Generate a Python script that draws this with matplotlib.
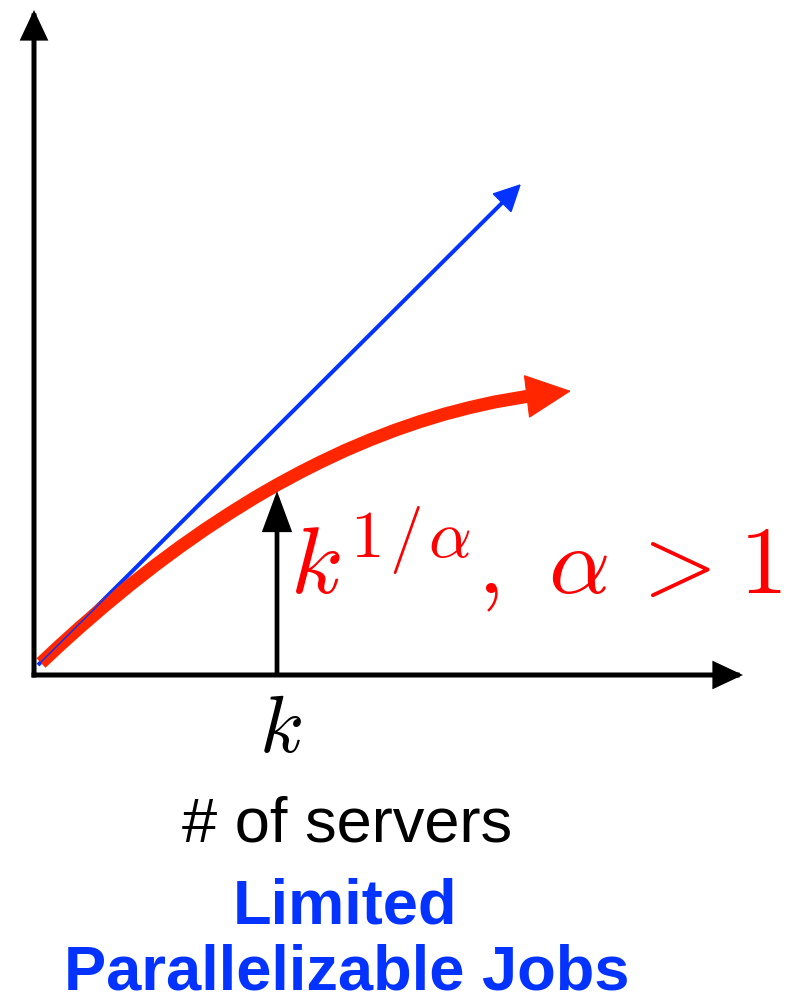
import matplotlib
matplotlib.use("Agg")
import matplotlib.pyplot as plt

plt.rcParams['mathtext.fontset'] = 'cm'

# ---- data (pixel-space coordinates, y grows downward) ----
origin_x, origin_y = 34, 675
yaxis_tip_y = 10
xaxis_tip_x = 743

blue_x = [38, 521]
blue_y = [665, 184]

red_x = [41, 60, 80, 105, 130, 155, 180, 205, 230, 255, 277,
         300, 320, 345, 370, 395, 420, 445, 470, 495, 527]
red_y = [663, 645.2, 627.2, 605.6, 585.0, 565.4, 546.9, 529.4, 513.0, 497.5, 484.8,
         472.4, 462.3, 450.5, 439.9, 430.2, 421.6, 414.0, 407.5, 401.9, 396.4]
red_tip = (571, 391)

k_x = 277
k_tip_y = 491

curve_label = (r'$k^{1\hspace{0.09}/\hspace{0.09}\alpha},\ '
               r'\alpha\hspace{0.18}>\hspace{0.07}1$')
k_label = r'$k$'
xlabel = '# of servers'
title_lines = ['Limited', 'Parallelizable Jobs']

BLUE = '#0433ff'
RED = '#ff2600'
TEXT_RED = '#ff0000'

fig = plt.figure(figsize=(8.07, 10.02), dpi=100)
ax = fig.add_axes([0, 0, 1, 1])
ax.set_xlim(0, 807)
ax.set_ylim(1002, 0)
ax.axis('off')


def arrow(xy, xytext, color, lw, hl, hw, cap='butt'):
    ax.annotate('', xy=xy, xytext=xytext,
                arrowprops=dict(arrowstyle=f'-|>,head_length={hl},head_width={hw}',
                                color=color, lw=lw, shrinkA=0, shrinkB=0,
                                mutation_scale=1, joinstyle='miter', capstyle=cap))


# axes
arrow((origin_x, yaxis_tip_y), (origin_x, origin_y), 'black', 3.6, 16, 7.5, 'projecting')
arrow((xaxis_tip_x, origin_y), (origin_x, origin_y), 'black', 3.6, 16, 7.5, 'projecting')

# blue linear line
ax.plot([blue_x[0], blue_x[1] - 12], [blue_y[0], blue_y[1] + 12], color=BLUE, lw=2.9,
        solid_capstyle='butt')
arrow((blue_x[1], blue_y[1]), (blue_x[0], blue_y[0]), BLUE, 1.0, 18, 9)

# red curve
ax.plot(red_x, red_y, color=RED, lw=9.4, solid_capstyle='butt', solid_joinstyle='round')
arrow(red_tip, (red_x[-1], red_y[-1]), RED, 0.8, 31, 15)

# k arrow
arrow((k_x, k_tip_y), (k_x, origin_y - 2), 'black', 3.4, 23, 8.5)

# texts
ax.text(k_x + 3, 752, k_label, fontsize=58, ha='center', va='baseline', color='black')
ax.text(290, 593, curve_label, fontsize=69, ha='left', va='baseline', color=TEXT_RED)

ax.text(347, 842, xlabel, fontsize=45.5, ha='center', va='baseline',
        family='Liberation Sans', color='black')
ax.text(345, 923, title_lines[0], fontsize=45.5, ha='center', va='baseline',
        family='Liberation Sans', fontweight='bold', color=BLUE)
ax.text(347, 990, title_lines[1], fontsize=45.5, ha='center', va='baseline',
        family='Liberation Sans', fontweight='bold', color=BLUE)

fig.savefig('out.png', dpi=100)
